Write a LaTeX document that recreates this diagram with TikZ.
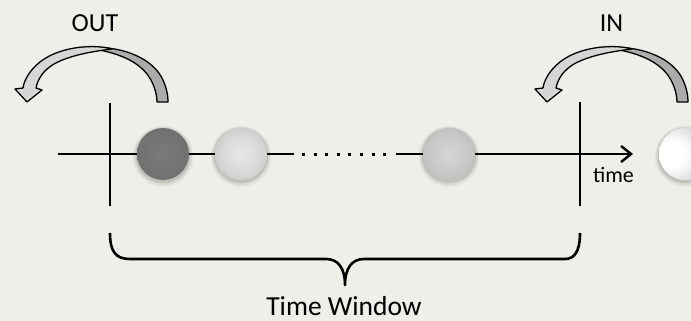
\documentclass[tikz,border=0pt]{standalone}
\usepackage{fontspec}
\setmainfont{Carlito}
\usetikzlibrary{arrows.meta}
\definecolor{bg}{HTML}{EFEFE9}
\pgfdeclareradialshading{balldark}{\pgfpoint{0bp}{0bp}}{color(0bp)=(black!52); color(26bp)=(black!56); color(40bp)=(black!63); color(46bp)=(black!70); color(49bp)=(black!82); color(50bp)=(black!85); color(100bp)=(black!85)}
\pgfdeclareradialshading{balllight}{\pgfpoint{0bp}{0bp}}{color(0bp)=(black!9); color(18bp)=(black!15); color(34bp)=(black!24); color(44bp)=(black!36); color(48bp)=(black!48); color(50bp)=(black!60); color(100bp)=(black!60)}
\pgfdeclareradialshading{ballmid}{\pgfpoint{0bp}{0bp}}{color(0bp)=(black!16); color(20bp)=(black!22); color(36bp)=(black!30); color(44bp)=(black!40); color(48bp)=(black!52); color(50bp)=(black!62); color(100bp)=(black!62)}
\pgfdeclareradialshading{ballwhite}{\pgfpoint{-14bp}{0bp}}{color(0bp)=(white); color(12bp)=(white); color(32bp)=(black!16); color(44bp)=(black!32); color(48bp)=(black!42); color(50bp)=(black!52); color(100bp)=(black!52)}
\newcommand\uturnarrow[1]{%
  \begin{scope}[shift={(#1,0)}]
    \filldraw[backband] (88,48) .. controls (115,45) and (150,55) .. (162,78)
      .. controls (166,86) and (168,94) .. (168,102) -- (157,102)
      .. controls (157,95) and (155,88) .. (151,80)
      .. controls (140,60) and (115,52) .. (88,48) -- cycle;
    \filldraw[frontband] (112,49) .. controls (95,44) and (60,46) .. (40,62)
      .. controls (30,70) and (24,80) .. (23,88)
      -- (15,89) -- (27,102) -- (42,90) -- (36,88)
      .. controls (38,78) and (44,70) .. (54,64)
      .. controls (70,55) and (95,51) .. (112,49) -- cycle;
  \end{scope}}
\begin{document}
\begin{tikzpicture}[x=1pt,y=-1pt,
  axis/.style={line width=2.4pt, black},
  dotline/.style={line width=3pt, black, dash pattern=on 3pt off 8.6pt},
  bracestyle/.style={line width=2.6pt, black, line join=round},
  backband/.style={draw=black, line width=1.3pt, fill=black!33, line join=round},
  frontband/.style={draw=black, line width=1.3pt, fill=black!16, line join=round},
  ballnode/.style={circle, minimum size=52pt, inner sep=0pt, shade},
  bigtext/.style={font=\fontsize{26}{30}\selectfont, anchor=base, inner sep=0pt},
  smalltext/.style={font=\fontsize{22}{26}\selectfont, anchor=base, inner sep=0pt}]
\path[use as bounding box, fill=bg] (0,0) rectangle (691,321);
\clip (0,0) rectangle (691,321);

% curved arrows
\uturnarrow{0}
\uturnarrow{520}

% timeline
\coordinate (t0) at (58,154);
\coordinate (d0) at (294,154);
\coordinate (d1) at (302,154);
\coordinate (d2) at (394,154);
\coordinate (d3) at (396,154);
\coordinate (t1) at (633,154);
\draw[axis] (t0) -- (d0);
\draw[dotline] (d1) -- (d2);
\draw[axis, -{Straight Barb[length=10pt,width=16pt]}] (d3) -- (t1);

% window limits
\coordinate (v1a) at (110,103);
\coordinate (v1b) at (110,206);
\coordinate (v2a) at (580,102);
\coordinate (v2b) at (580,206);
\draw[axis] (v1a) -- (v1b);
\draw[axis] (v2a) -- (v2b);

% ball shadows
\foreach \bx in {163,241,449,685}{
  \fill[black,opacity=0.10] (\bx,155.5) circle (27.5pt);
  \fill[black,opacity=0.06] (\bx,156) circle (29pt);
  \fill[black,opacity=0.04] (\bx,156.5) circle (30.5pt);
}
% balls
\node[ballnode, shading=balldark] (b1) at (163,154) {};
\node[ballnode, shading=balllight] (b2) at (241,154) {};
\node[ballnode, shading=ballmid] (b3) at (449,154) {};
\node[ballnode, shading=ballwhite] (b4) at (685,154) {};

% brace
\draw[bracestyle] (110,233) .. controls (110,252) and (116,259) .. (130,259)
  -- (326,259) .. controls (338,259) and (345,268) .. (345,285)
  .. controls (345,268) and (352,259) .. (364,259)
  -- (565,259) .. controls (574,259) and (580,252) .. (580,233);

% labels
\node[bigtext] (out) at (95,32) {OUT};
\node[bigtext] (in) at (611.5,32) {IN};
\node[smalltext] (time) at (613.5,182) {time};
\node[bigtext, font=\fontsize{27.5}{31}\selectfont] (tw) at (344,315.5) {Time Window};
\end{tikzpicture}
\end{document}
